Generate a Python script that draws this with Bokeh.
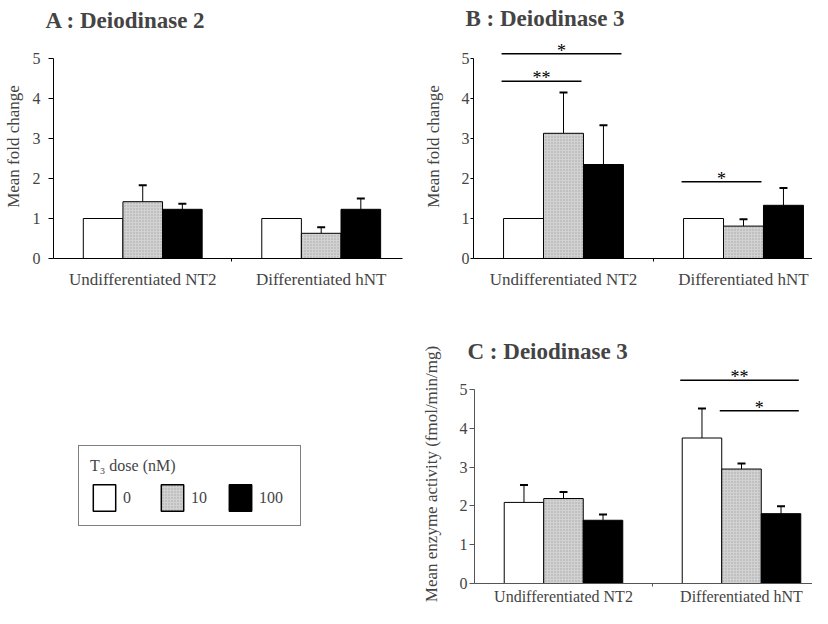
from bokeh.plotting import figure
from bokeh.models import (Range1d, FixedTicker, Title, Whisker, TeeHead,
                          ColumnDataSource, Legend, LegendItem)
from bokeh.layouts import column, row
from bokeh.embed import file_html
from bokeh.resources import INLINE
from bokeh.core.properties import value

# ---------------- data ----------------
groups = ["Undifferentiated NT2", "Differentiated hNT"]
doses = ["0", "10", "100"]
legend_title = "T\u2083 dose (nM)"

a_nt2_mean = [1.00, 1.42, 1.23]
a_nt2_se = [0.00, 0.41, 0.14]
a_hnt_mean = [1.00, 0.63, 1.23]
a_hnt_se = [0.00, 0.15, 0.27]

b_nt2_mean = [1.00, 3.13, 2.35]
b_nt2_se = [0.00, 1.02, 0.98]
b_hnt_mean = [1.00, 0.81, 1.33]
b_hnt_se = [0.00, 0.17, 0.43]

c_nt2_mean = [2.09, 2.19, 1.63]
c_nt2_se = [0.45, 0.17, 0.15]
c_hnt_mean = [3.75, 2.95, 1.80]
c_hnt_se = [0.76, 0.14, 0.19]

# significance: (group index, from dose index, to dose index, level, label)
b_sig = [(0, 0, 2, 5.12, "*"), (0, 0, 1, 4.43, "**"), (1, 0, 1, 1.92, "*")]
c_sig = [(1, 0, 2, 5.24, "**"), (1, 1, 2, 4.45, "*")]

# ---------------- style ----------------
FONT = "Liberation Serif"
FILLS = ["white", "#d2d2d2", "black"]
BW = 0.222
GRAY_HATCH = dict(hatch_pattern="dot", hatch_color="#6e6e6e",
                  hatch_scale=3, hatch_weight=1, hatch_alpha=0.45)


def make_panel(means, ses, sig, title, ylabel, width, height, mb, x_end, y_end,
               tick_out, tick_standoff, ylab_standoff, xlab_standoff,
               xlab_size, title_offset, title_standoff, axis_color):
    p = figure(width=width, height=height, x_range=Range1d(0, x_end),
               y_range=Range1d(0, y_end), toolbar_location=None,
               output_backend="svg", min_border_left=mb[0],
               min_border_right=mb[1], min_border_top=mb[2],
               min_border_bottom=mb[3])
    p.title = Title(text=title, align="left", offset=title_offset,
                    standoff=title_standoff, text_font=FONT,
                    text_font_size="23px", text_font_style="bold")
    p.outline_line_color = None
    p.grid.visible = False
    p.background_fill_color = "white"
    p.border_fill_color = "white"

    for d in range(len(doses)):
        xs = [g + 0.5 + (d - 1) * BW for g in range(len(groups))]
        tops = [means[g][d] for g in range(len(groups))]
        kw = GRAY_HATCH if d == 1 else {}
        p.vbar(x=xs, top=tops, bottom=0, width=BW, fill_color=FILLS[d],
               line_color="black", line_width=1, **kw)

    ex, elo, ehi = [], [], []
    for g in range(len(groups)):
        for d in range(len(doses)):
            if ses[g][d] > 0:
                ex.append(g + 0.5 + (d - 1) * BW)
                elo.append(means[g][d])
                ehi.append(means[g][d] + ses[g][d])
    src = ColumnDataSource(dict(x=ex, lo=elo, hi=ehi))
    p.add_layout(Whisker(source=src, base="x", lower="lo", upper="hi",
                         lower_head=None,
                         upper_head=TeeHead(size=8, line_width=2,
                                            line_color="black"),
                         line_color="black", line_width=1))

    for (g, d0, d1, lvl, lab) in sig:
        x0 = g + 0.5 + (d0 - 1) * BW - 0.55 * BW
        x1 = g + 0.5 + (d1 - 1) * BW + 0.45 * BW
        p.segment(x0=[x0], y0=[lvl], x1=[x1], y1=[lvl], line_color="black",
                  line_width=1.5)
        p.text(x=[(x0 + x1) / 2], y=[lvl], text=[lab],
               text_font=value(FONT), text_font_size="18px",
               text_align="center", text_baseline="alphabetic", y_offset=-3)

    # y axis
    ya = p.yaxis[0]
    ya.ticker = FixedTicker(ticks=[0, 1, 2, 3, 4, 5])
    ya.bounds = (0, 5)
    ya.axis_label = ylabel
    ya.axis_label_text_font = FONT
    ya.axis_label_text_font_size = "17px"
    ya.axis_label_text_font_style = "normal"
    ya.axis_label_standoff = ylab_standoff
    ya.major_label_text_font = FONT
    ya.major_label_text_font_size = "16px"
    ya.major_tick_in = 0
    ya.major_tick_out = tick_out
    ya.minor_tick_out = 0
    ya.major_label_standoff = tick_standoff
    ya.axis_line_color = axis_color
    ya.major_tick_line_color = axis_color

    # x axis
    xa = p.xaxis[0]
    xa.ticker = FixedTicker(ticks=[0.5, 1.5], minor_ticks=[1.0])
    xa.major_label_overrides = {0.5: groups[0], 1.5: groups[1]}
    xa.major_label_text_font = FONT
    xa.major_label_text_font_size = xlab_size
    xa.major_tick_in = 0
    xa.major_tick_out = 0
    xa.minor_tick_in = 0
    xa.minor_tick_out = 3
    xa.major_label_standoff = xlab_standoff
    xa.axis_line_color = axis_color
    xa.minor_tick_line_color = axis_color
    return p


pa = make_panel([a_nt2_mean, a_hnt_mean], [a_nt2_se, a_hnt_se], [],
                "A : Deiodinase 2", "Mean fold change",
                406, 312, (50, 4, 34, 54), 352 / 180, 224 / 40,
                5, 8, 7, 8, "17px", -8, 3, "black")

pb = make_panel([b_nt2_mean, b_hnt_mean], [b_nt2_se, b_hnt_se], b_sig,
                "B : Deiodinase 3", "Mean fold change",
                406, 312, (67, 0, 34, 54), 339 / 180, 224 / 40,
                3, 1, 16, 8, "17px", -8, 7, "black")

pc = make_panel([c_nt2_mean, c_hnt_mean], [c_nt2_se, c_hnt_se], c_sig,
                "C : Deiodinase 3", "Mean enzyme activity (fmol/min/mg)",
                406, 296, (68, 0, 52, 25), 338 / 178, 219 / 38.8,
                5, 2, 16, 1, "16px", -7, 2, "#555555")

# legend panel
pl = figure(width=406, height=296, x_range=Range1d(0, 1), y_range=Range1d(0, 1),
            toolbar_location=None, output_backend="svg", min_border=0,
            x_axis_type=None, y_axis_type=None)
pl.outline_line_color = None
pl.grid.visible = False
pl.border_fill_color = "white"
pl.background_fill_color = "white"
items = []
for d, lab in enumerate(doses):
    kw = GRAY_HATCH if d == 1 else {}
    # hidden swatch renderer, used only by the legend
    r = pl.vbar(x=[0.5], top=[1], width=0.1, fill_color=FILLS[d],
                line_color="black", line_width=1.5, **kw)
    r.visible = False
    items.append(LegendItem(label=lab, renderers=[r]))
leg = Legend(items=items, location=(78, 57), orientation="horizontal",
             title=legend_title, title_text_font=FONT,
             title_text_font_size="16px", title_text_font_style="normal",
             title_standoff=6, label_text_font=FONT,
             label_text_font_size="16px", glyph_width=28, glyph_height=33,
             label_width=30, label_height=33, label_standoff=5, spacing=5,
             padding=11, margin=0, border_line_color="black",
             border_line_width=1.5, background_fill_color="white",
             background_fill_alpha=1.0, inactive_fill_alpha=0.0)
pl.add_layout(leg)

layout = column(row(pa, pb), row(pl, pc))

with open("out.html", "w") as f:
    f.write(file_html(layout, INLINE))
